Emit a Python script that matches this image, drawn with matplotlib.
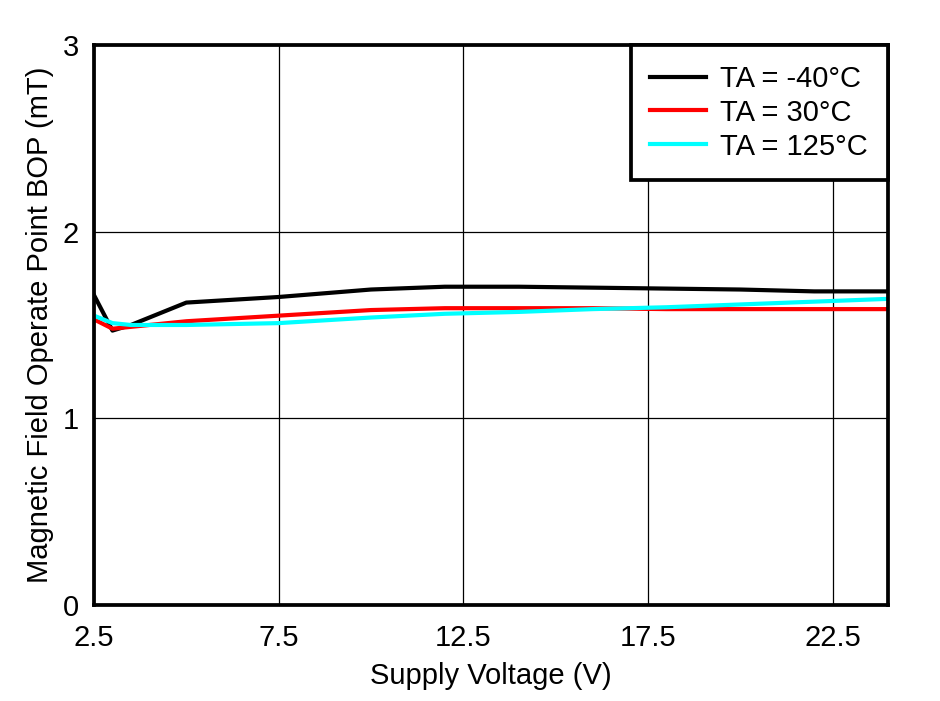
import matplotlib
matplotlib.use("Agg")
import matplotlib.pyplot as plt

# supply voltage (V)
vcc = [2.5, 3, 3.5, 5, 7.5, 10, 12, 14, 16, 18, 20, 22, 24]

# BOP (mT) per ambient temperature
bop_m40 = [1.66, 1.47, 1.50, 1.62, 1.65, 1.69, 1.705, 1.705, 1.70, 1.695, 1.69, 1.68, 1.68]
bop_30 = [1.53, 1.48, 1.49, 1.52, 1.55, 1.58, 1.59, 1.59, 1.59, 1.585, 1.585, 1.585, 1.585]
bop_125 = [1.55, 1.51, 1.50, 1.50, 1.51, 1.54, 1.56, 1.57, 1.585, 1.595, 1.61, 1.625, 1.64]

series_labels = ["TA = -40°C", "TA = 30°C", "TA = 125°C"]
colors = ["#000000", "#ff0000", "#00ffff"]

xticks = [2.5, 7.5, 12.5, 17.5, 22.5]
yticks = [0, 1, 2, 3]

plt.rcParams["font.family"] = ["Liberation Sans", "DejaVu Sans"]

fig = plt.figure(figsize=(9.4, 7.01), dpi=100)
ax = fig.add_axes([0.1, 0.137, 0.8447, 0.7988])

for ys, lab, c in zip([bop_m40, bop_30, bop_125], series_labels, colors):
    ax.plot(vcc, ys, color=c, lw=3, label=lab)

ax.set_xlim(2.5, 24)
ax.set_ylim(0, 3)
ax.set_xticks(xticks)
ax.set_xticklabels([str(t) for t in xticks])
ax.set_yticks(yticks)
ax.grid(True, color="black", lw=0.9)
ax.tick_params(length=0, labelsize=21)
ax.tick_params(axis="x", pad=14)
ax.tick_params(axis="y", pad=11)
for s in ax.spines.values():
    s.set_linewidth(2.7)

ax.set_xlabel("Supply Voltage (V)", fontsize=21, labelpad=7)
ax.set_ylabel("Magnetic Field Operate Point BOP (mT)", fontsize=21, labelpad=6)

leg = ax.legend(loc="upper right", fontsize=21, fancybox=False, framealpha=1,
                edgecolor="black", borderaxespad=0, handlelength=1.9,
                labelspacing=0.2, borderpad=0.68, handletextpad=0.5)
leg.get_frame().set_linewidth(2.7)

fig.savefig("out.png", dpi=100)
